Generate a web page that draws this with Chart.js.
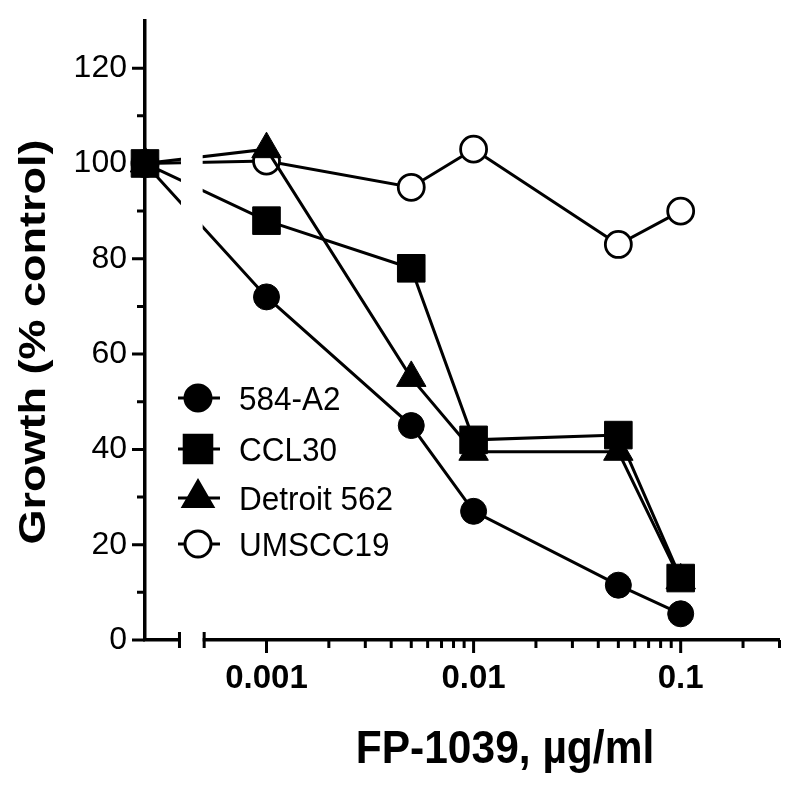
<!DOCTYPE html>
<html>
<head>
<meta charset="utf-8">
<script src="https://cdn.jsdelivr.net/npm/chart.js@4.4.1/dist/chart.umd.min.js"></script>
<style>
  html, body { margin: 0; padding: 0; background: #fff; }
  #wrap { width: 800px; height: 786px; position: relative; }
</style>
</head>
<body>
<div id="wrap"><canvas id="growthChart"></canvas></div>
<script>
// ----------------- Datos -----------------

// µg/ml; 0 = control (se dibuja sobre el eje Y, antes del corte del eje X)
const concentrations = [0, 0.001, 0.005, 0.01, 0.05, 0.1];

const growth584A2 = [100, 72, 45, 27, 11.5, 5.5];
const growthCCL30 = [100, 88, 78, 42, 43, 13];
const growthDetroit562 = [100, 103, 55, 39.5, 39.5, 12.5];
const growthUMSCC19 = [100, 100.5, 95, 103, 83, 90];

const seriesLabels = ['584-A2', 'CCL30', 'Detroit 562', 'UMSCC19'];

const xMajorTicks = [0.001, 0.01, 0.1];
const xMajorLabels = ['0.001', '0.01', '0.1'];
const xMinorTicks = [
  0.002, 0.003, 0.004, 0.005, 0.006, 0.007, 0.008, 0.009,
  0.02, 0.03, 0.04, 0.05, 0.06, 0.07, 0.08, 0.09,
  0.2, 0.3
];
const yTickValues = [0, 10, 20, 30, 40, 50, 60, 70, 80, 90, 100, 110, 120];
const yLabelValues = [0, 20, 40, 60, 80, 100, 120];

const xTitle = 'FP-1039, µg/ml';
const yTitle = 'Growth (% control)';

// ----------------- Ejes -----------------

const X_ORIGIN = 0.000259;   // donde está el eje Y (y el punto control)
const X_MAX = 0.3;
const BREAK_FROM = 0.00038;  // corte del eje X
const BREAK_TO = 0.0005;
const Y_MAX = 130;

const INK = '#000';
const FONT = '"Liberation Sans", Arial, sans-serif';

function toPoints(values) {
  return concentrations.map((c, i) => ({ x: c === 0 ? X_ORIGIN : c, y: values[i] }));
}

const datasets = [
  { label: seriesLabels[0], data: toPoints(growth584A2), pointStyle: 'circle', pointRadius: 13,
    pointBackgroundColor: INK, pointBorderWidth: 1, order: 2 },
  { label: seriesLabels[1], data: toPoints(growthCCL30), pointStyle: 'rect', pointRadius: 19.5,
    pointBackgroundColor: INK, pointBorderWidth: 1, order: 0 },
  { label: seriesLabels[2], data: toPoints(growthDetroit562), pointStyle: 'triangle', pointRadius: 17,
    pointBackgroundColor: INK, pointBorderWidth: 1, order: 1 },
  { label: seriesLabels[3], data: toPoints(growthUMSCC19), pointStyle: 'circle', pointRadius: 13,
    pointBackgroundColor: '#fff', pointBorderWidth: 2.8, order: 3 }
].map(d => Object.assign({
  borderColor: INK,
  borderWidth: 3,
  pointBorderColor: INK,
  tension: 0,
  clip: false
}, d));

// texto con estiramiento vertical (el original está algo alargado en vertical)
function stretchedText(ctx, text, x, y, font, sy, rotate) {
  ctx.save();
  ctx.translate(x, y);
  if (rotate) ctx.rotate(-Math.PI / 2);
  if (rotate) ctx.scale(sy, 1); else ctx.scale(1, sy);
  ctx.font = font;
  ctx.fillText(text, 0, 0);
  ctx.restore();
}

// ----------------- Plugins -----------------

// marcas de los ejes (mayores largas, menores cortas)
const tickMarks = {
  id: 'tickMarks',
  beforeDatasetsDraw(chart) {
    const { ctx, scales: { x, y } } = chart;
    ctx.save();
    ctx.strokeStyle = INK;
    ctx.lineWidth = 3;
    ctx.beginPath();
    xMajorTicks.forEach(v => {
      const px = x.getPixelForValue(v);
      ctx.moveTo(px, y.bottom); ctx.lineTo(px, y.bottom + 13);
    });
    xMinorTicks.forEach(v => {
      const px = x.getPixelForValue(v);
      ctx.moveTo(px, y.bottom); ctx.lineTo(px, y.bottom + 8);
    });
    yTickValues.forEach(v => {
      const py = y.getPixelForValue(v);
      const len = yLabelValues.includes(v) ? 13 : 8;
      ctx.moveTo(x.left, py); ctx.lineTo(x.left - len, py);
    });
    ctx.stroke();
    ctx.restore();
  }
};

// corte del eje X: tapa las líneas y el eje en el hueco, y dibuja los topes
const axisBreak = {
  id: 'axisBreak',
  afterDatasetsDraw(chart) {
    const { ctx, scales: { x, y } } = chart;
    const a = x.getPixelForValue(BREAK_FROM);
    const b = x.getPixelForValue(BREAK_TO);
    ctx.save();
    ctx.fillStyle = '#fff';
    ctx.fillRect(a + 1.5, 0, b - a - 3, y.bottom + 20);
    ctx.strokeStyle = INK;
    ctx.lineWidth = 3;
    ctx.beginPath();
    [a, b].forEach(px => {
      ctx.moveTo(px, y.bottom - 8);
      ctx.lineTo(px, y.bottom + 8);
    });
    ctx.stroke();
    ctx.restore();
  }
};

// leyenda dentro del área: línea + marcador + texto
const insideLegend = {
  id: 'insideLegend',
  afterDraw(chart) {
    const { ctx } = chart;
    const x0 = 178, x1 = 220, xm = 198, xt = 239;
    const rows = [398, 449, 498, 544];
    ctx.save();
    chart.data.datasets.forEach((ds, i) => {
      const yy = rows[i];
      ctx.strokeStyle = INK;
      ctx.lineWidth = 3;
      ctx.beginPath();
      ctx.moveTo(x0, yy); ctx.lineTo(x1, yy);
      ctx.stroke();
      ctx.fillStyle = ds.pointBackgroundColor;
      ctx.strokeStyle = INK;
      Chart.helpers.drawPoint(ctx, {
        pointStyle: ds.pointStyle,
        radius: ds.pointRadius,
        rotation: 0,
        borderWidth: ds.pointBorderWidth
      }, xm, yy);
      ctx.fillStyle = INK;
      ctx.textAlign = 'left';
      ctx.textBaseline = 'alphabetic';
      stretchedText(ctx, ds.label, xt, yy + 12, `31.5px ${FONT}`, 1.08, false);
    });
    ctx.restore();
  }
};

// títulos de los ejes
const axisTitles = {
  id: 'axisTitles',
  afterDraw(chart) {
    const { ctx } = chart;
    ctx.save();
    ctx.fillStyle = INK;
    ctx.textAlign = 'center';
    ctx.textBaseline = 'alphabetic';
    stretchedText(ctx, xTitle, 505, 763, `bold 42.5px ${FONT}`, 1.1, false);
    stretchedText(ctx, yTitle, 45, 342, `bold 36px ${FONT}`, 1.25, true);
    ctx.restore();
  }
};

// ----------------- Gráfico -----------------

const canvas = document.getElementById('growthChart');

new Chart(canvas.getContext('2d'), {
  type: 'line',
  data: { datasets },
  options: {
    responsive: true,
    maintainAspectRatio: false,
    animation: false,
    events: [],
    layout: { padding: { top: 14, right: 17, left: 0, bottom: 0 } },
    plugins: {
      legend: { display: false },
      tooltip: { enabled: false }
    },
    scales: {
      x: {
        type: 'logarithmic',
        min: X_ORIGIN,
        max: X_MAX,
        afterBuildTicks: scale => {
          scale.ticks = xMajorTicks.map(v => ({ value: v }));
        },
        afterFit: scale => {
          scale.height = 786 - 640;
          scale.paddingLeft = 0;
          scale.paddingRight = 0;
        },
        grid: { drawOnChartArea: false, drawTicks: false, color: 'rgba(0,0,0,0)' },
        border: { display: true, color: INK, width: 3.5 },
        ticks: {
          autoSkip: false,
          maxRotation: 0,
          padding: 19,
          color: INK,
          font: { family: FONT, size: 33, weight: 'bold' },
          callback: (value) => {
            const i = xMajorTicks.findIndex(v => Math.abs(v - value) < v * 1e-6);
            return i >= 0 ? xMajorLabels[i] : '';
          }
        }
      },
      y: {
        type: 'linear',
        min: 0,
        max: Y_MAX,
        afterBuildTicks: scale => {
          scale.ticks = yLabelValues.map(v => ({ value: v }));
        },
        afterFit: scale => {
          scale.width = 145;
          scale.paddingTop = 0;
          scale.paddingBottom = 0;
        },
        grid: { drawOnChartArea: false, drawTicks: false, color: 'rgba(0,0,0,0)' },
        border: { display: true, color: INK, width: 3.5 },
        ticks: {
          padding: 18,
          color: INK,
          font: { family: FONT, size: 32 },
          callback: (value) => String(value)
        }
      }
    }
  },
  plugins: [tickMarks, axisBreak, insideLegend, axisTitles]
});
</script>
</body>
</html>
